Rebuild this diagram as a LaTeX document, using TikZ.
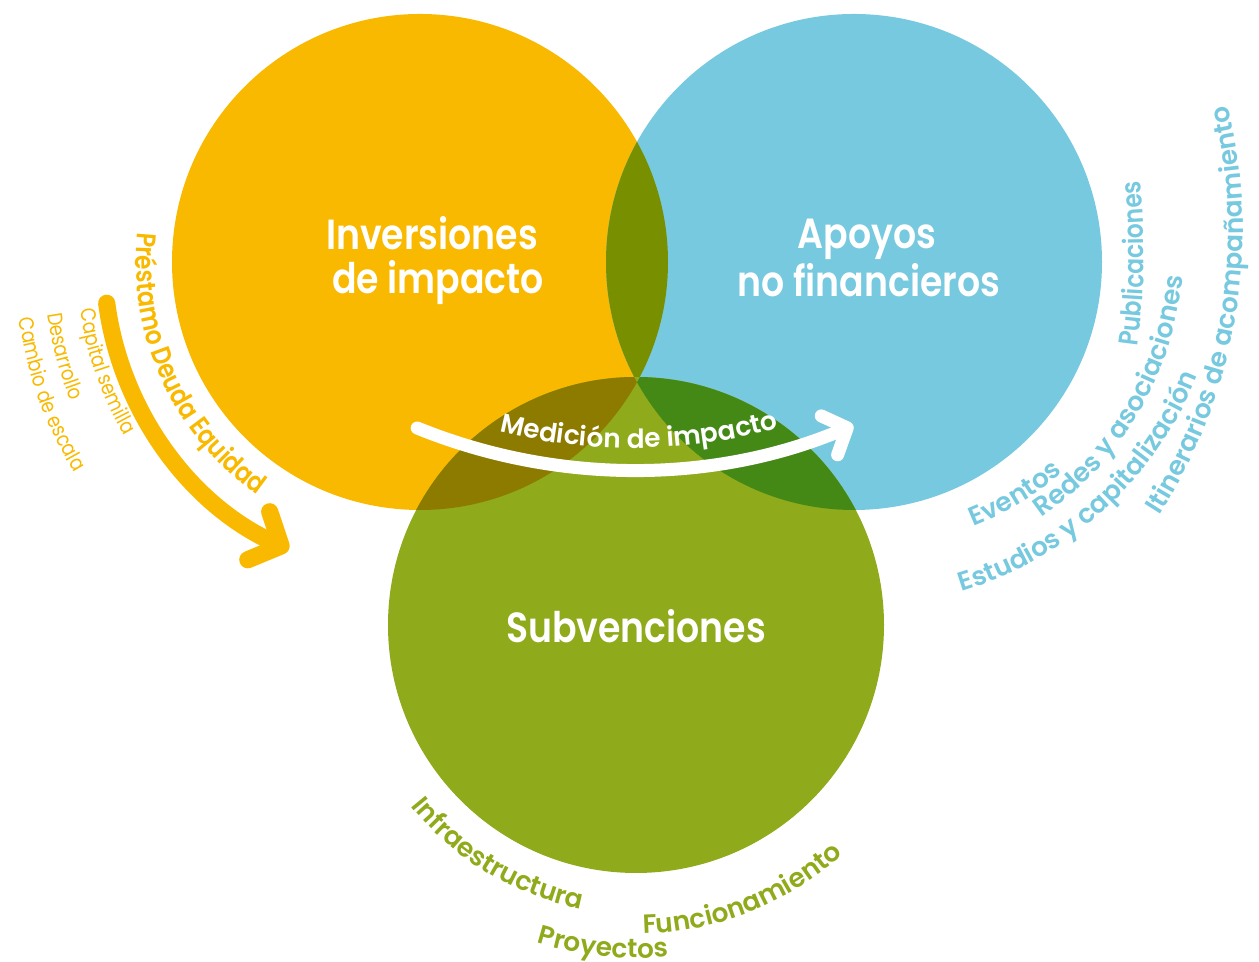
\documentclass[tikz,border=0pt]{standalone}
\usepackage{fontspec}
\setmainfont{Poppins}
\newfontfamily\semifont{Poppins SemiBold}[FakeStretch=0.86]
\newfontfamily\tagfamily{Poppins SemiBold}
\newfontfamily\thinfamily{Poppins}[FakeStretch=0.85]
\usetikzlibrary{calc,arrows.meta,decorations.text}

\definecolor{ylw}{RGB}{249,185,0}
\definecolor{blu}{RGB}{119,201,223}
\definecolor{grn}{RGB}{143,170,26}
\definecolor{ylwblu}{RGB}{120,144,0}
\definecolor{ylwgrn}{RGB}{141,123,0}
\definecolor{blugrn}{RGB}{68,137,22}

\newcommand{\bigfont}{\semifont\fontsize{24}{28}\selectfont}
\newcommand{\tagfont}{\tagfamily\fontsize{15}{18}\selectfont}
\newcommand{\tagnarrow}{\semifont\fontsize{15.5}{18}\selectfont}
\newcommand{\thinfont}{\thinfamily\fontsize{12}{14}\selectfont}

\begin{document}
\begin{tikzpicture}[x=0.02cm, y=0.02cm,
    bigtext/.style={text=white, font=\bigfont, anchor=base, inner sep=0pt},
    arctext/.style={decorate, decoration={text along path, text={#1}}},
    flow/.style={line width=#1, line cap=round}]
\useasboundingbox (0,0) rectangle (1259,962);

    % Circle centres
    \coordinate (Y) at (420,700);
    \coordinate (B) at (854,700);
    \coordinate (G) at (636,337);

    % Circles and overlaps
    \fill[ylw] (Y) circle[radius=248];
    \fill[blu] (B) circle[radius=248];
    \fill[grn] (G) circle[radius=248];
    \begin{scope}
        \clip (Y) circle[radius=248];
        \fill[ylwblu] (B) circle[radius=248];
        \fill[ylwgrn] (G) circle[radius=248];
    \end{scope}
    \begin{scope}
        \clip (B) circle[radius=248];
        \fill[blugrn] (G) circle[radius=248];
    \end{scope}
    \begin{scope}
        \clip (Y) circle[radius=248];
        \clip (B) circle[radius=248];
        \fill[grn] (G) circle[radius=248];
    \end{scope}

    % Titles
    \node[bigtext] (invA) at (432,712) {Inversiones};
    \node[bigtext] (invB) at (438,668) {de impacto};
    \node[bigtext] (apoA) at (867,713) {Apoyos};
    \node[bigtext] (apoB) at (869,665) {no financieros};
    \node[bigtext] (sub) at (636,319) {Subvenciones};

    % Medicion arrow
    \coordinate (M) at (632,1063);
    \draw[white, flow=7.4pt, -{Straight Barb[length=11pt, width=24pt, round]}]
        ($(M)+(247.9:571)$) arc[start angle=247.9, end angle=292.8, radius=571];
    \path[arctext={|\color{white}\tagfont|Medición de impacto}]
        ($(M)+(256:549)$) arc[start angle=256, end angle=300, radius=549];

    % Yellow side
    \draw[ylw, flow=9.8pt, -{Straight Barb[length=14pt, width=30pt, round]}]
        ($(Y)+(187.5:316)$) arc[start angle=187.5, end angle=245.5, radius=316];
    \path[arctext={|\color{ylw}\tagnarrow|Préstamo Deuda Equidad}]
        ($(Y)+(174:284)$) arc[start angle=174, end angle=262, radius=284];
    \path[arctext={|\color{ylw}\thinfont|Capital semilla}]
        ($(Y)+(188:343)$) arc[start angle=188, end angle=240, radius=343];
    \path[arctext={|\color{ylw}\thinfont|Desarrollo}]
        ($(Y)+(188:376)$) arc[start angle=188, end angle=240, radius=376];
    \path[arctext={|\color{ylw}\thinfont|Cambio de escala}]
        ($(Y)+(188:405)$) arc[start angle=188, end angle=240, radius=405];

    % Green side
    \path[arctext={|\color{grn}\tagfont|Infraestructura}]
        ($(G)+(218.8:289)$) arc[start angle=218.8, end angle=280, radius=289];
    \path[arctext={|\color{grn}\tagfont|Proyectos}]
        ($(G)+(252.7:333)$) arc[start angle=252.7, end angle=300, radius=333];
    \path[arctext={|\color{grn}\tagfont|Funcionamiento}]
        ($(G)+(271.3:309)$) arc[start angle=271.3, end angle=335, radius=309];

    % Blue side
    \coordinate (BE) at (854,734.5);
    \coordinate (BR) at (854,715.6);
    \coordinate (BP) at (444,710);
    \coordinate (BS) at (854,724.8);
    \coordinate (BI) at (718,731);
    \path[arctext={|\color{blu}\tagfont|Eventos}]
        ($(BE)+(291.8:322)$) arc[start angle=291.8, end angle=340, radius=322];
    \path[arctext={|\color{blu}\tagfont|Redes y asociaciones}]
        ($(BR)+(304.7:330)$) arc[start angle=304.7, end angle=380, radius=330];
    \path[arctext={|\color{blu}\tagnarrow|Publicaciones}]
        ($(BP)+(352.2:700)$) arc[start angle=352.2, end angle=385, radius=700];
    \path[arctext={|\color{blu}\tagfont|Estudios y capitalización}]
        ($(BS)+(286.9:370.6)$) arc[start angle=286.9, end angle=360, radius=370.6];
    \path[arctext={|\color{blu}\tagfont|Itinerarios de acompañamiento}]
        ($(BI)+(327.2:525)$) arc[start angle=327.2, end angle=390, radius=525];

\end{tikzpicture}
\end{document}
